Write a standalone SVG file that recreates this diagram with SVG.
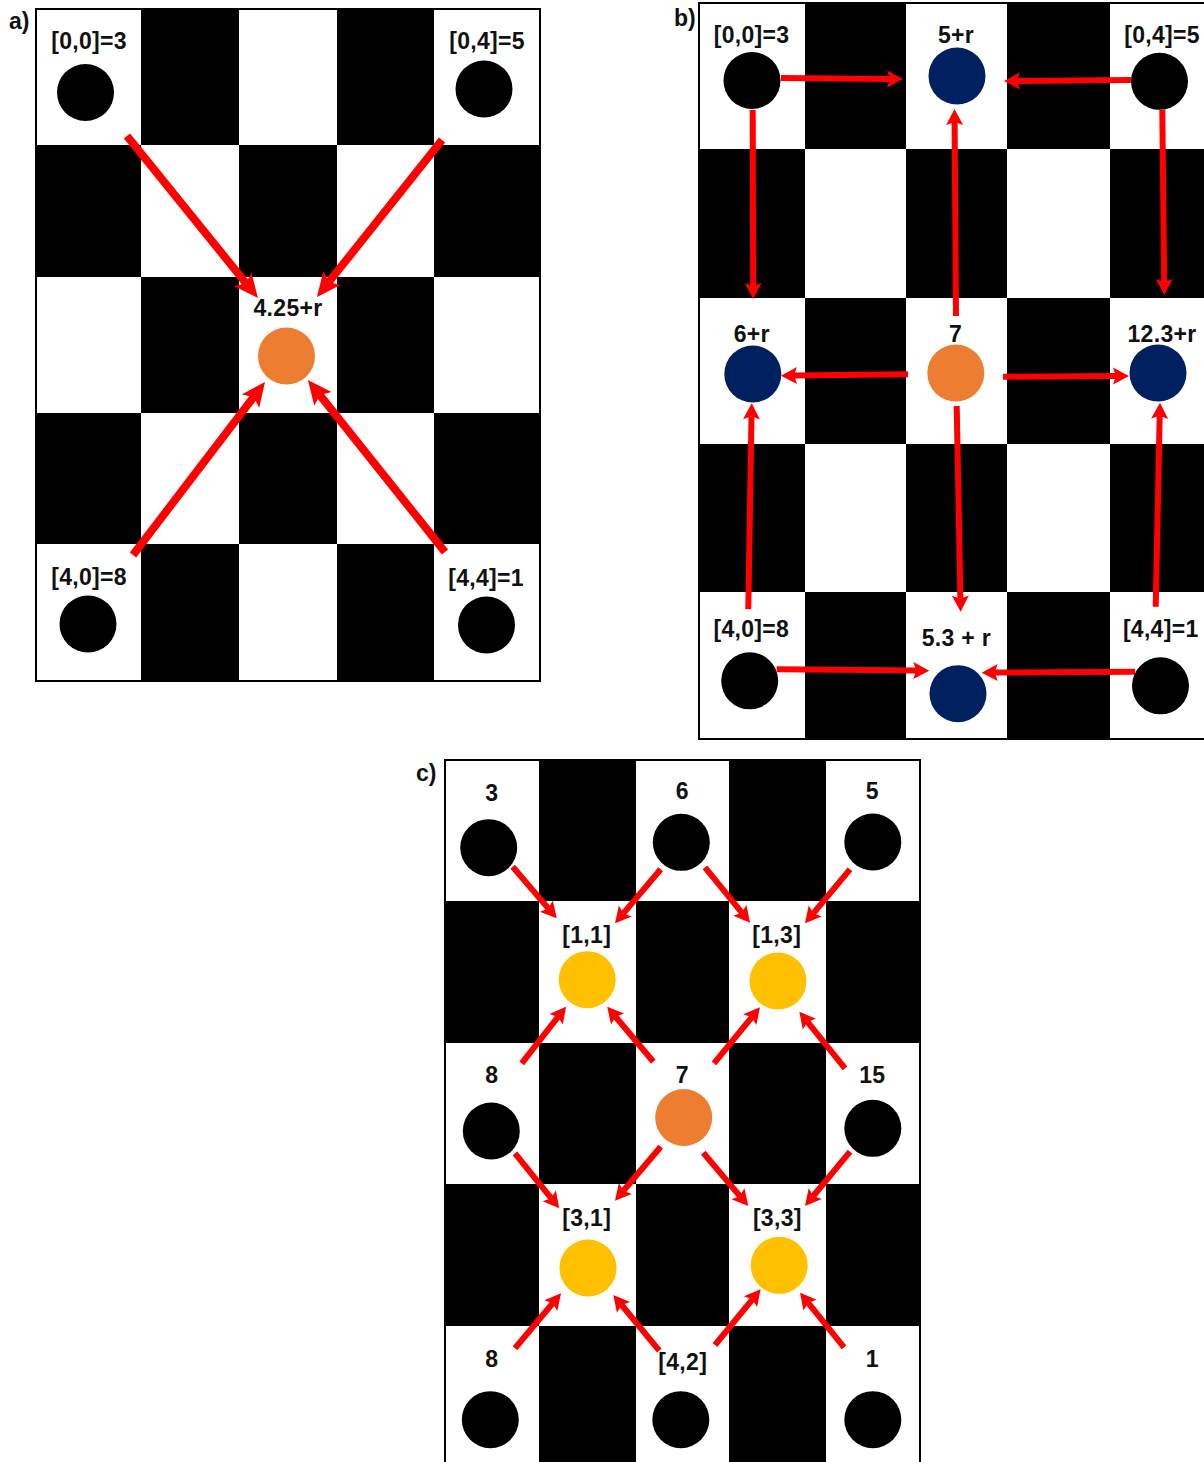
<svg xmlns="http://www.w3.org/2000/svg" width="1204" height="1462" viewBox="0 0 1204 1462">
<defs>
<style>
.t{font-family:"Liberation Sans",Arial,sans-serif;font-weight:bold;font-size:23px;letter-spacing:0.3px;text-anchor:middle;fill:#111}
.p{font-family:"Liberation Sans",Arial,sans-serif;font-weight:bold;font-size:23px;fill:#111}
.sq{fill:#000}
.brd{fill:none;stroke:#000;stroke-width:2}
.k{fill:#000}.o{fill:#ED7D31}.n{fill:#002060}.y{fill:#FFC000}
.ca line{stroke:#FF0000;stroke-width:8;marker-end:url(#ha)}
.cb line{stroke:#FF0000;stroke-width:6;marker-end:url(#hb)}
</style>
<marker id="ha" markerUnits="userSpaceOnUse" markerWidth="24" markerHeight="22" refX="5" refY="11" orient="auto" overflow="visible"><path d="M0,0 L24,11 L0,22 L5,11 z" fill="#FF0000"/></marker>
<marker id="hb" markerUnits="userSpaceOnUse" markerWidth="16" markerHeight="17" refX="3" refY="8.5" orient="auto" overflow="visible"><path d="M0,0 L16,8.5 L0,17 L3,8.5 z" fill="#FF0000"/></marker>
</defs>
<rect width="1204" height="1462" fill="#fff"/>

<!-- Panel a board -->
<g id="board-a">
<rect x="36" y="9" width="504" height="672" fill="#fff"/>
<rect class="sq" x="141" y="9" width="98" height="136"/><rect class="sq" x="337" y="9" width="97" height="136"/>
<rect class="sq" x="36" y="145" width="105" height="132"/><rect class="sq" x="239" y="145" width="98" height="132"/><rect class="sq" x="434" y="145" width="106" height="132"/>
<rect class="sq" x="141" y="277" width="98" height="136"/><rect class="sq" x="337" y="277" width="97" height="136"/>
<rect class="sq" x="36" y="413" width="105" height="131"/><rect class="sq" x="239" y="413" width="98" height="131"/><rect class="sq" x="434" y="413" width="106" height="131"/>
<rect class="sq" x="141" y="544" width="98" height="137"/><rect class="sq" x="337" y="544" width="97" height="137"/>
<rect class="brd" x="36" y="9" width="504" height="672"/>
<text class="p" x="9" y="29">a)</text>
</g>

<!-- Panel b board -->
<g id="board-b">
<rect x="699" y="3" width="516" height="736" fill="#fff"/>
<rect class="sq" x="805" y="3" width="101" height="146"/><rect class="sq" x="1007" y="3" width="103" height="146"/>
<rect class="sq" x="699" y="149" width="106" height="149"/><rect class="sq" x="906" y="149" width="101" height="149"/><rect class="sq" x="1110" y="149" width="105" height="149"/>
<rect class="sq" x="805" y="298" width="101" height="146"/><rect class="sq" x="1007" y="298" width="103" height="146"/>
<rect class="sq" x="699" y="444" width="106" height="148"/><rect class="sq" x="906" y="444" width="101" height="148"/><rect class="sq" x="1110" y="444" width="105" height="148"/>
<rect class="sq" x="805" y="592" width="101" height="147"/><rect class="sq" x="1007" y="592" width="103" height="147"/>
<rect class="brd" x="699" y="3" width="516" height="736"/>
<text class="p" x="674" y="26">b)</text>
</g>

<!-- Panel c board -->
<g id="board-c">
<rect x="445" y="760" width="475" height="712" fill="#fff"/>
<rect class="sq" x="539" y="760" width="97" height="141"/><rect class="sq" x="729" y="760" width="97" height="141"/>
<rect class="sq" x="445" y="901" width="94" height="142"/><rect class="sq" x="636" y="901" width="93" height="142"/><rect class="sq" x="826" y="901" width="94" height="142"/>
<rect class="sq" x="539" y="1043" width="97" height="141"/><rect class="sq" x="729" y="1043" width="97" height="141"/>
<rect class="sq" x="445" y="1184" width="94" height="142"/><rect class="sq" x="636" y="1184" width="93" height="142"/><rect class="sq" x="826" y="1184" width="94" height="142"/>
<rect class="sq" x="539" y="1326" width="97" height="146"/><rect class="sq" x="729" y="1326" width="97" height="146"/>
<rect class="brd" x="445" y="760" width="475" height="712"/>
<text class="p" x="416" y="781">c)</text>
</g>

<!-- Connectors -->
<g id="connectors">
<g class="ca">
<line x1="127" y1="136" x2="246" y2="283.2"/>
<line x1="442" y1="140" x2="328.8" y2="282.1"/>
<line x1="133" y1="555" x2="253.5" y2="397.1"/>
<line x1="445" y1="552" x2="319.8" y2="394.9"/>
</g>
<g class="cb">
<line x1="781" y1="78" x2="890" y2="79"/>
<line x1="752.7" y1="110" x2="753.2" y2="286"/>
<line x1="956" y1="316" x2="954.6" y2="122"/>
<line x1="1131" y1="80" x2="1017" y2="81"/>
<line x1="1162.3" y1="110" x2="1164.2" y2="282"/>
<line x1="908" y1="374.3" x2="794" y2="375.6"/>
<line x1="1003" y1="376.7" x2="1116" y2="376.1"/>
<line x1="956.7" y1="406" x2="960.4" y2="598.7"/>
<line x1="748.3" y1="609.3" x2="751.5" y2="416.3"/>
<line x1="776.7" y1="669.3" x2="916.3" y2="670.6"/>
<line x1="1135" y1="671.7" x2="994.7" y2="672.6"/>
<line x1="1155.7" y1="606.7" x2="1159.7" y2="415.7"/>
</g>
<g class="cb">
<line x1="512.7" y1="866.7" x2="548.3" y2="908.4"/>
<line x1="660.7" y1="869.3" x2="623.4" y2="913.4"/>
<line x1="705" y1="867.3" x2="741.8" y2="912.6"/>
<line x1="850" y1="869.3" x2="813.3" y2="913.3"/>
<line x1="521.7" y1="1063.3" x2="558" y2="1016.9"/>
<line x1="653.3" y1="1061.7" x2="615.6" y2="1016.7"/>
<line x1="714" y1="1063.3" x2="751.7" y2="1017.3"/>
<line x1="845" y1="1068.3" x2="807.5" y2="1021.8"/>
<line x1="515" y1="1153.3" x2="551.1" y2="1198.2"/>
<line x1="660.7" y1="1146.7" x2="623.4" y2="1190.8"/>
<line x1="703.3" y1="1152.7" x2="739.9" y2="1196.1"/>
<line x1="850" y1="1151.7" x2="813.3" y2="1196"/>
<line x1="515" y1="1348.3" x2="552.7" y2="1303.3"/>
<line x1="659.3" y1="1350.7" x2="621.6" y2="1305"/>
<line x1="715" y1="1345" x2="752.4" y2="1299.4"/>
<line x1="844" y1="1347.3" x2="808.2" y2="1302.8"/>
</g>
</g>

<!-- Panel a nodes -->
<g id="a00"><circle class="k" cx="85.5" cy="92.5" r="28.5"/><text class="t" x="89" y="49">[0,0]=3</text></g>
<g id="a04"><circle class="k" cx="484" cy="89" r="28.5"/><text class="t" x="487" y="49">[0,4]=5</text></g>
<g id="a22"><circle class="o" cx="286.5" cy="356" r="28.5"/><text class="t" x="288" y="316">4.25+r</text></g>
<g id="a40"><circle class="k" cx="88" cy="624" r="28.5"/><text class="t" x="89" y="585">[4,0]=8</text></g>
<g id="a44"><circle class="k" cx="486.5" cy="625" r="28.5"/><text class="t" x="486" y="586">[4,4]=1</text></g>

<!-- Panel b nodes -->
<g id="b00"><circle class="k" cx="752" cy="80.5" r="28.5"/><text class="t" x="751.5" y="43">[0,0]=3</text></g>
<g id="b02"><circle class="n" cx="957" cy="76" r="28.5"/><text class="t" x="956" y="43">5+r</text></g>
<g id="b04"><circle class="k" cx="1159.5" cy="81.3" r="28.5"/><text class="t" x="1162" y="43">[0,4]=5</text></g>
<g id="b20"><circle class="n" cx="752.8" cy="374" r="28.5"/><text class="t" x="751.7" y="342">6+r</text></g>
<g id="b22"><circle class="o" cx="955.8" cy="373" r="28.5"/><text class="t" x="955.5" y="342">7</text></g>
<g id="b24"><circle class="n" cx="1158" cy="373" r="28.5"/><text class="t" x="1162" y="342">12.3+r</text></g>
<g id="b40"><circle class="k" cx="749.7" cy="680.8" r="28.5"/><text class="t" x="751.3" y="637">[4,0]=8</text></g>
<g id="b42"><circle class="n" cx="958" cy="693.7" r="28.5"/><text class="t" x="956.3" y="646">5.3 + r</text></g>
<g id="b44"><circle class="k" cx="1160.5" cy="685.8" r="28.5"/><text class="t" x="1160.7" y="637">[4,4]=1</text></g>

<!-- Panel c nodes -->
<g id="c00"><circle class="k" cx="488.7" cy="847.7" r="28.5"/><text class="t" x="491.7" y="801">3</text></g>
<g id="c02"><circle class="k" cx="681.3" cy="842.3" r="28.5"/><text class="t" x="682.3" y="799">6</text></g>
<g id="c04"><circle class="k" cx="872.8" cy="842" r="28.5"/><text class="t" x="872.3" y="799">5</text></g>
<g id="c11"><circle class="y" cx="587.2" cy="979.7" r="28.5"/><text class="t" x="586.7" y="943">[1,1]</text></g>
<g id="c13"><circle class="y" cx="778" cy="981" r="28.5"/><text class="t" x="776.7" y="943">[1,3]</text></g>
<g id="c20"><circle class="k" cx="491.3" cy="1131" r="28.5"/><text class="t" x="491.7" y="1083">8</text></g>
<g id="c22"><circle class="o" cx="683.7" cy="1117.5" r="28.5"/><text class="t" x="682.3" y="1083">7</text></g>
<g id="c24"><circle class="k" cx="872.8" cy="1128.3" r="28.5"/><text class="t" x="872.3" y="1083">15</text></g>
<g id="c31"><circle class="y" cx="588" cy="1268" r="28.5"/><text class="t" x="586.7" y="1226">[3,1]</text></g>
<g id="c33"><circle class="y" cx="779.2" cy="1265.3" r="28.5"/><text class="t" x="777.3" y="1226">[3,3]</text></g>
<g id="c40"><circle class="k" cx="490.3" cy="1419.7" r="28.5"/><text class="t" x="491.7" y="1367">8</text></g>
<g id="c42"><circle class="k" cx="680.8" cy="1419.7" r="28.5"/><text class="t" x="682.7" y="1370">[4,2]</text></g>
<g id="c44"><circle class="k" cx="872.8" cy="1419.7" r="28.5"/><text class="t" x="872.3" y="1367">1</text></g>
</svg>
